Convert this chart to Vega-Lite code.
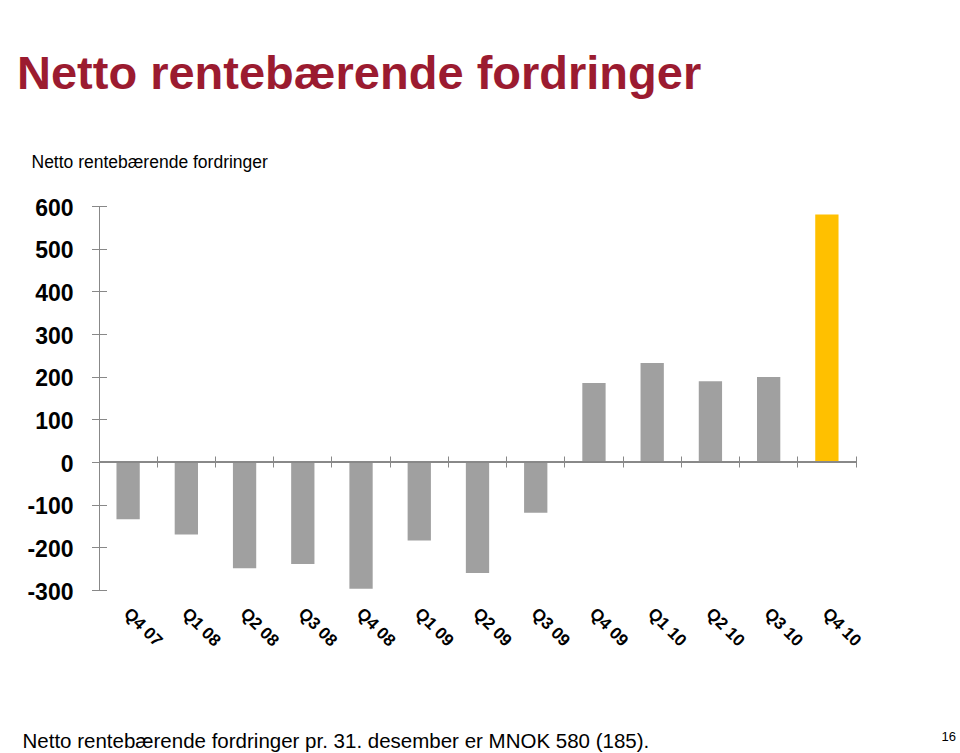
{
  "$schema": "https://vega.github.io/schema/vega-lite/v6.json",
  "autosize": "none",
  "width": 757,
  "height": 384,
  "padding": {"left": 99, "top": 206, "right": 104, "bottom": 163},
  "background": "white",
  "config": {
    "view": {"stroke": null},
    "font": "Liberation Sans"
  },
  "title": {
    "text": "Netto rentebærende fordringer",
    "anchor": "start",
    "frame": "group",
    "dx": -82,
    "dy": -50,
    "fontSize": 47,
    "fontWeight": "bold",
    "font": "Liberation Sans",
    "color": "#9B1B30"
  },
  "data": {
    "values": [
      {"q": "Q4 07", "v": -134},
      {"q": "Q1 08", "v": -170},
      {"q": "Q2 08", "v": -249},
      {"q": "Q3 08", "v": -239},
      {"q": "Q4 08", "v": -297},
      {"q": "Q1 09", "v": -184},
      {"q": "Q2 09", "v": -260},
      {"q": "Q3 09", "v": -119},
      {"q": "Q4 09", "v": 185},
      {"q": "Q1 10", "v": 232},
      {"q": "Q2 10", "v": 189},
      {"q": "Q3 10", "v": 199},
      {"q": "Q4 10", "v": 580}
    ]
  },
  "resolve": {"axis": {"x": "independent", "y": "independent"}},
  "layer": [
    {
      "mark": {"type": "bar", "width": {"band": 0.4}},
      "encoding": {
        "x": {
          "field": "q", "type": "nominal", "sort": null,
          "scale": {"paddingInner": 0, "paddingOuter": 0},
          "axis": {
            "title": "Netto rentebærende fordringer pr. 31. desember er MNOK 580 (185).",
            "titleFontSize": 20.5, "titleFontWeight": "normal", "titleColor": "#000",
            "titleAlign": "left", "titleBaseline": "alphabetic", "titleX": -77, "titleY": 157,
            "ticks": false, "tickSize": 0, "domain": false, "grid": false,
            "labelAngle": 45, "labelAlign": "left", "labelBaseline": "top",
            "labelFontSize": 17, "labelFontWeight": "bold", "labelColor": "#000", "labelPadding": 15, "labelOffset": 4
          }
        },
        "y": {
          "field": "v", "type": "quantitative",
          "scale": {"domain": [-300, 600], "nice": false},
          "axis": {
            "title": "Netto rentebærende fordringer",
            "titleAngle": 0, "titleAlign": "left", "titleBaseline": "alphabetic",
            "titleX": -68, "titleY": -39, "titleFontSize": 17.5, "titleFontWeight": "normal", "titleColor": "#000",
            "values": [-300, -200, -100, 0, 100, 200, 300, 400, 500, 600],
            "labelExpr": "'' + datum.value",
            "ticks": false, "tickSize": 0, "grid": false,
            "domainColor": "#888888",
            "labelFontSize": 23, "labelFontWeight": "bold", "labelColor": "#000", "labelPadding": 26, "labelOffset": 2
          }
        },
        "color": {
          "condition": {"test": "datum.q === 'Q4 10'", "value": "#FFC000"},
          "value": "#A0A0A0"
        }
      }
    },
    {
      "mark": {"type": "rule", "color": "#888888", "strokeWidth": 1},
      "encoding": {
        "y": {
          "datum": 0, "type": "quantitative",
          "axis": {
            "orient": "left", "offset": -7.5, "title": null,
            "values": [-300, -200, -100, 0, 100, 200, 300, 400, 500, 600],
            "ticks": true, "tickSize": 15, "tickColor": "#888888",
            "labels": false, "domain": false, "grid": false
          }
        }
      }
    },
    {
      "mark": {"type": "point", "opacity": 0},
      "encoding": {
        "x": {
          "field": "q", "type": "nominal", "sort": null,
          "axis": {
            "orient": "bottom", "offset": -134, "bandPosition": 1,
            "ticks": true, "tickSize": 11, "tickColor": "#888888",
            "labels": false, "domain": false, "grid": false,
            "title": "16", "titleFontSize": 13, "titleFontWeight": "normal", "titleColor": "#000",
            "titleAlign": "left", "titleBaseline": "alphabetic", "titleX": 842, "titleY": 284
          }
        },
        "y": {"datum": 0, "type": "quantitative", "axis": null}
      }
    }
  ]
}
